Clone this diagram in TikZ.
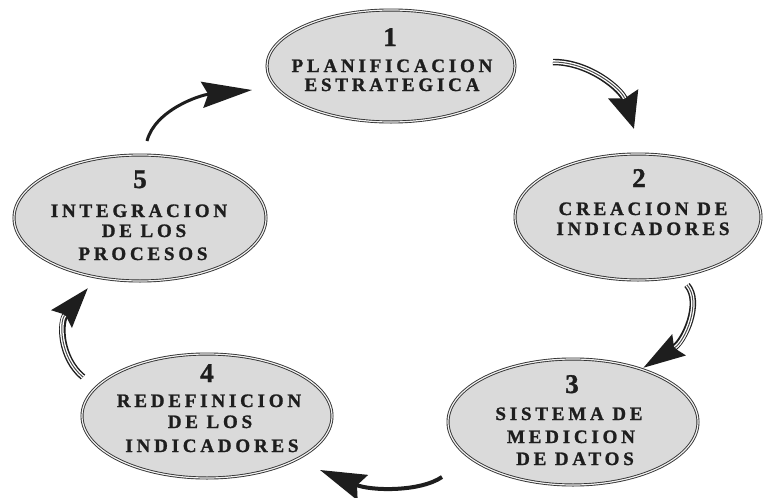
\documentclass[tikz,border=0pt]{standalone}
\usepackage{fontspec}
\setmainfont{Liberation Serif}
\newfontfamily\capsfam{Liberation Serif Bold}[LetterSpace=20, FakeBold=1.2]
\newfontfamily\digfam{Liberation Serif Bold}[FakeBold=1.2]
\usetikzlibrary{shapes.geometric,arrows.meta}
\definecolor{efill}{HTML}{DADADA}
\definecolor{eline}{HTML}{333333}
\definecolor{ink}{HTML}{1E1E1E}
\begin{document}
\begin{tikzpicture}[x=1pt,y=-1pt,
  stage/.style={ellipse, draw=eline, double=efill!40, double distance=1.2pt, line width=0.9pt, fill=efill, inner sep=0pt},
  lbl/.style={anchor=base, inner sep=0pt, text=ink, font=\capsfam\fontsize{19}{22}\selectfont},
  num/.style={anchor=base, inner sep=0pt, text=ink, font=\digfam\fontsize{27}{30}\selectfont},
  flow/.style={draw=ink, line width=#1},
  hollow/.style={postaction={draw=white, line width=3.6pt, arrows=-, shorten >=#1},
                 postaction={draw=ink!80, line width=1pt, arrows=-, shorten >=#1}}
]
\useasboundingbox (0,0) rectangle (764,498);
\fill[white] (0,0) rectangle (764,498);

% stages
\node[stage, minimum width=248pt, minimum height=112pt] (e1) at (391,66) {};
\node[stage, minimum width=246pt, minimum height=126pt] (e2) at (638,217) {};
\node[stage, minimum width=250pt, minimum height=126pt] (e3) at (573,422) {};
\node[stage, minimum width=250pt, minimum height=124pt] (e4) at (207,416) {};
\node[stage, minimum width=252pt, minimum height=126pt] (e5) at (140,218) {};

% texts 1
\node[num] (n1) at (390,46) {1};
\node[lbl] (t1a) at (392,72) {PLANIFICACION};
\node[lbl] (t1b) at (392,91) {ESTRATEGICA};
% texts 2
\node[num] (n2) at (639,187) {2};
\node[lbl] (t2a) at (643,215) {CREACION DE};
\node[lbl] (t2b) at (643,235) {INDICADORES};
% texts 3
\node[num] (n3) at (572,393) {3};
\node[lbl] (t3a) at (569,420) {SISTEMA DE};
\node[lbl] (t3b) at (571,443) {MEDICION};
\node[lbl] (t3c) at (575,465) {DE DATOS};
% texts 4
\node[num] (n4) at (207,382) {4};
\node[lbl] (t4a) at (209,407) {REDEFINICION};
\node[lbl] (t4b) at (210,428) {DE LOS};
\node[lbl] (t4c) at (212,452) {INDICADORES};
% texts 5
\node[num] (n5) at (140,188) {5};
\node[lbl] (t5a) at (139,217) {INTEGRACION};
\node[lbl] (t5b) at (144,237) {DE LOS};
\node[lbl] (t5c) at (143,260) {PROCESOS};

% arrow end points
\coordinate (s12) at (553,62);  \coordinate (t12) at (634,129);
\coordinate (s23) at (687,285); \coordinate (t23) at (643,368);
\coordinate (s34) at (442,477); \coordinate (t34) at (320,470);
\coordinate (s45) at (83,377);  \coordinate (t45) at (88,288);
\coordinate (s51) at (147,141); \coordinate (t51) at (252,90);

% arrows
\draw[flow=6.5pt, -{Stealth[length=36pt,width=30pt,inset=4pt]}, hollow=32pt]
  (s12) .. controls (590,62) and (622,90) .. (t12);
\draw[flow=6.5pt, -{Stealth[length=42pt,width=24pt,inset=5pt]}, hollow=38pt]
  (s23) .. controls (702,302) and (685,341) .. (t23);
\draw[flow=4pt, -{Stealth[length=46pt,width=27pt,inset=6pt]}]
  (s34) .. controls (420,492) and (371,491) .. (t34);
\draw[flow=6.5pt, -{Stealth[length=40pt,width=26pt,inset=5pt]}, hollow=36pt]
  (s45) .. controls (60,358) and (59,322) .. (t45);
\draw[flow=3pt, -{Stealth[length=50pt,width=26pt,inset=6pt]}]
  (s51) .. controls (155,110) and (200,95) .. (t51);
\end{tikzpicture}
\end{document}
